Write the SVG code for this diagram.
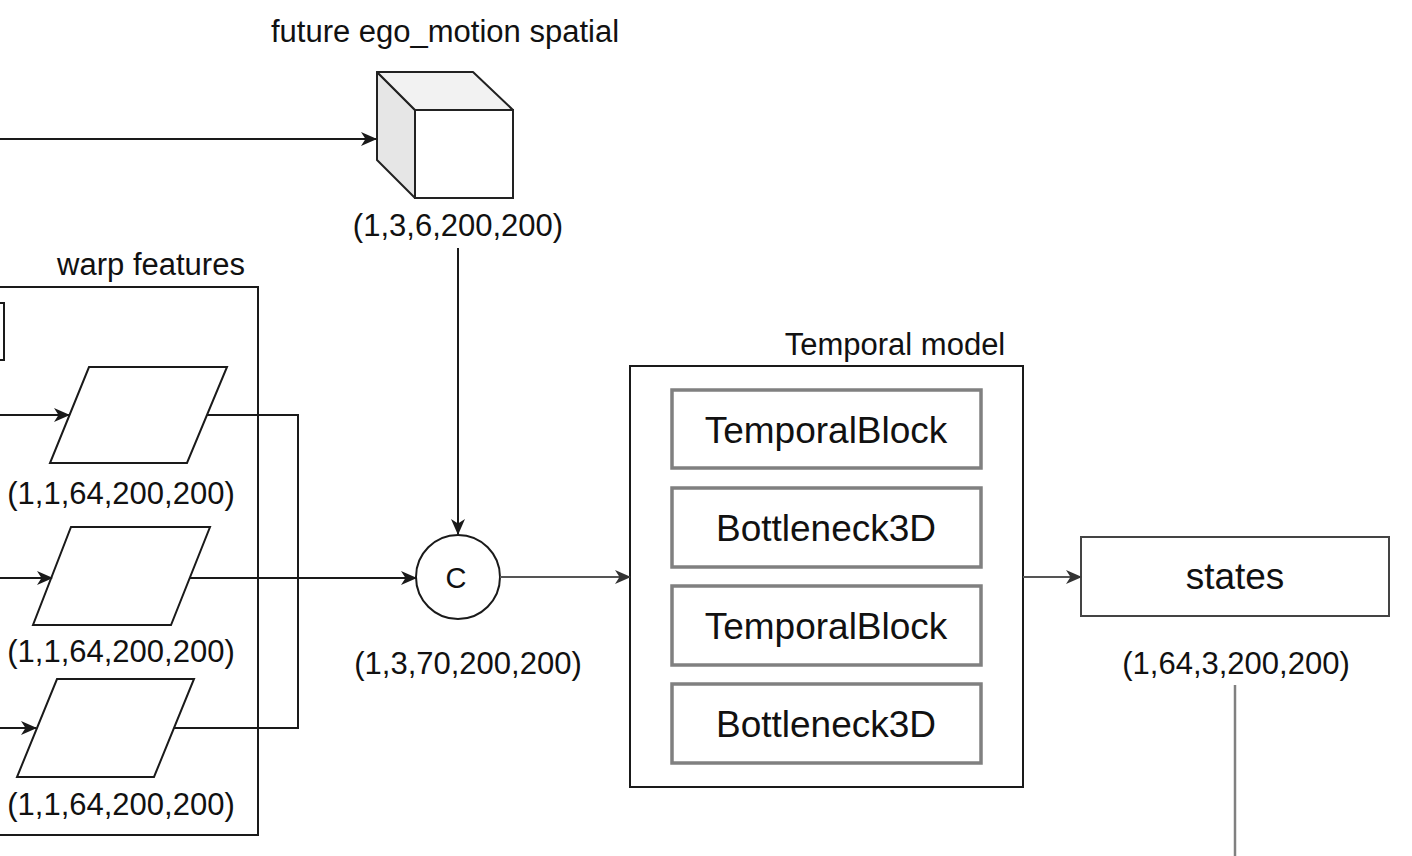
<svg xmlns="http://www.w3.org/2000/svg" width="1412" height="856" viewBox="0 0 1412 856">
<style>
text{font-family:"Liberation Sans",Arial,Helvetica,sans-serif;fill:#111;}
.lbl{font-size:31px;}
.mid{text-anchor:middle;}
.big{font-size:37px;}
.ln{fill:none;stroke:#1a1a1a;stroke-width:2;}
.gl{fill:none;stroke:#555;stroke-width:2.2;}
.shape{fill:#fff;stroke:#1a1a1a;stroke-width:2;}
.blk{fill:#fff;stroke:#808080;stroke-width:3.5;}
</style>
<defs>
<marker id="arr" viewBox="0 0 16 16" refX="15" refY="8" markerWidth="16" markerHeight="16" markerUnits="userSpaceOnUse" orient="auto">
<path d="M0,1 L16,8 L0,15 L4.5,8 z" fill="#1a1a1a"/>
</marker>
<marker id="arrg" viewBox="0 0 16 16" refX="15" refY="8" markerWidth="16" markerHeight="16" markerUnits="userSpaceOnUse" orient="auto">
<path d="M0,1 L16,8 L0,15 L4.5,8 z" fill="#333"/>
</marker>
</defs>
<rect width="1412" height="856" fill="#fff"/>

<g id="warp-features">
<rect class="shape" x="-10" y="287" width="268" height="548"/>
<text class="lbl mid" x="151" y="275">warp features</text>
</g>
<g id="small-box">
<rect class="shape" x="-10" y="303" width="14" height="57"/>
</g>
<g id="feat1">
<polygon class="shape" points="89,367 227,367 187,463 50,463"/>
<text class="lbl mid" x="121" y="504">(1,1,64,200,200)</text>
</g>
<g id="feat2">
<polygon class="shape" points="71,527 210,527 171,625 33,625"/>
<text class="lbl mid" x="121" y="662">(1,1,64,200,200)</text>
</g>
<g id="feat3">
<polygon class="shape" points="57,679 194,679 154,777 17,777"/>
<text class="lbl mid" x="121" y="815">(1,1,64,200,200)</text>
</g>
<g id="ego-motion">
<text class="lbl mid" x="445" y="42">future ego_motion spatial</text>
<polygon points="377,72 415,110 415,198 377,160" fill="#e6e6e6" stroke="#222" stroke-width="2" stroke-linejoin="round"/>
<polygon points="377,72 473,72 513,110 415,110" fill="#f2f2f2" stroke="#222" stroke-width="2" stroke-linejoin="round"/>
<rect x="415" y="110" width="98" height="88" fill="#fff" stroke="#222" stroke-width="2"/>
<text class="lbl mid" x="458" y="236">(1,3,6,200,200)</text>
</g>
<g id="concat">
<circle class="shape" cx="458" cy="577" r="42"/>
<text class="mid" x="456" y="588" style="font-size:29px">C</text>
<text class="lbl mid" x="468" y="674">(1,3,70,200,200)</text>
</g>
<g id="temporal-model">
<rect class="shape" x="630" y="366" width="393" height="421"/>
<text class="lbl mid" x="895" y="355">Temporal model</text>
</g>
<g id="tb1">
<rect class="blk" x="672" y="390" width="309" height="78"/>
<text class="big mid" x="826" y="443">TemporalBlock</text>
</g>
<g id="bn1">
<rect class="blk" x="672" y="488" width="309" height="79"/>
<text class="big mid" x="826" y="541">Bottleneck3D</text>
</g>
<g id="tb2">
<rect class="blk" x="672" y="586" width="309" height="79"/>
<text class="big mid" x="826" y="639">TemporalBlock</text>
</g>
<g id="bn2">
<rect class="blk" x="672" y="684" width="309" height="79"/>
<text class="big mid" x="826" y="737">Bottleneck3D</text>
</g>
<g id="states">
<rect x="1081" y="537" width="308" height="79" fill="#fff" stroke="#444" stroke-width="2"/>
<text class="big mid" x="1235" y="589">states</text>
<text class="lbl mid" x="1236" y="674">(1,64,3,200,200)</text>
</g>

<g id="connectors">
<line class="ln" x1="0" y1="139" x2="376" y2="139" marker-end="url(#arr)"/>
<line class="ln" x1="0" y1="415" x2="69" y2="415" marker-end="url(#arr)"/>
<line class="ln" x1="0" y1="578" x2="52" y2="578" marker-end="url(#arr)"/>
<line class="ln" x1="0" y1="728" x2="36" y2="728" marker-end="url(#arr)"/>
<polyline class="ln" points="207,415 298,415 298,728 174,728"/>
<line class="ln" x1="190" y1="578" x2="416" y2="578" marker-end="url(#arr)"/>
<line class="ln" x1="458" y1="248" x2="458" y2="534" marker-end="url(#arr)"/>
<line class="gl" x1="500" y1="577" x2="630" y2="577" marker-end="url(#arrg)"/>
<line class="gl" x1="1023" y1="577" x2="1081" y2="577" marker-end="url(#arrg)"/>
<line x1="1235" y1="685" x2="1235" y2="856" stroke="#808080" stroke-width="2.5"/>
</g>
</svg>
